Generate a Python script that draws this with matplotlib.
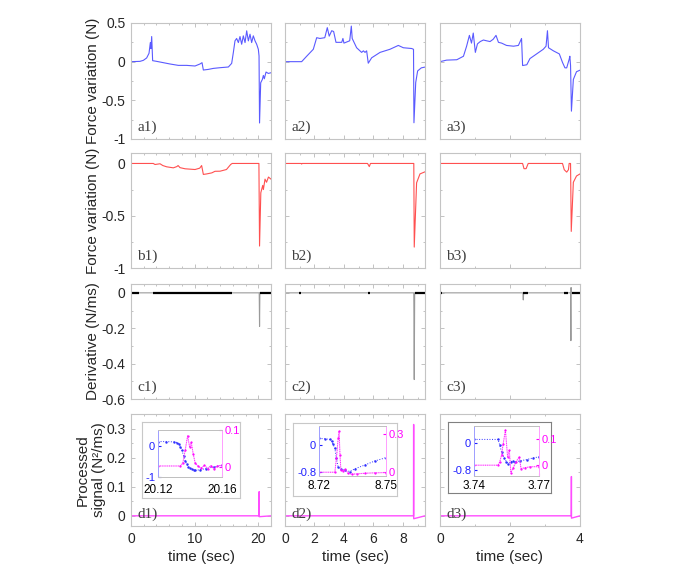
import matplotlib
matplotlib.use("Agg")
import matplotlib.pyplot as plt
from matplotlib.ticker import AutoMinorLocator, FuncFormatter

plt.rcParams['font.family'] = ['Liberation Sans', 'DejaVu Sans']
plt.rcParams['axes.unicode_minus'] = False

# ---- data ----
# row a: force variation (N)
a1_t = [0, 1.41, 1.94, 2.46, 2.83, 3.04, 3.14, 3.25, 3.40, 4.03, 5.08, 6.13, 7.44, 8.75, 10.06,
        10.84, 11.16, 11.37, 12.15, 12.94, 13.99, 15.3, 15.82, 16.08, 16.34, 16.6, 16.87, 17.13,
        17.39, 17.65, 17.92, 18.18, 18.44, 18.7, 18.96, 19.22, 19.49, 19.75, 20.01, 20.12, 20.2,
        20.38, 20.64, 20.8, 20.95, 21.22, 21.58, 22.0]
a1_v = [0, 0.004, 0.017, 0.048, 0.108, 0.247, 0.169, 0.325, 0.013, 0.004, -0.013, -0.03, -0.048,
        -0.048, -0.056, -0.03, -0.013, -0.108, -0.1, -0.087, -0.078, -0.069, -0.022, 0.117, 0.269,
        0.3, 0.247, 0.325, 0.225, 0.334, 0.247, 0.399, 0.269, 0.355, 0.247, 0.334, 0.269, 0.225,
        0.16, 0.074, -0.793, -0.273, -0.23, -0.178, -0.221, -0.134, -0.152, -0.143]
a2_t = [0, 1.13, 1.47, 1.92, 2.15, 2.37, 2.7, 2.87, 3.0, 3.17, 3.3, 3.46, 3.85, 3.93, 4.0, 4.39,
        4.5, 4.56, 4.86, 5.2, 5.32, 5.43, 5.54, 5.65, 5.88, 6.45, 7.12, 7.69, 8.03, 8.6, 8.72,
        8.75, 8.87, 9.0, 9.25, 9.5]
a2_v = [0, 0, 0.07, 0.16, 0.31, 0.30, 0.31, 0.44, 0.33, 0.40, 0.39, 0.25, 0.25, 0.30, 0.24, 0.27,
        0.46, 0.30, 0.18, 0.12, 0.14, 0.12, 0.14, -0.02, 0.05, 0.12, 0.16, 0.21, 0.18, 0.17, 0.16,
        -0.79, -0.27, -0.12, -0.08, -0.07]
a3_t = [0, 0.19, 0.48, 0.67, 0.76, 0.84, 0.9, 0.95, 1.01, 1.07, 1.15, 1.24, 1.33, 1.43, 1.52, 1.6,
        1.67, 1.76, 1.9, 2.1, 2.24, 2.33, 2.36, 2.48, 2.57, 2.76, 2.95, 3.03, 3.07, 3.1, 3.24,
        3.41, 3.5, 3.57, 3.62, 3.69, 3.71, 3.73, 3.755, 3.81, 3.9, 4.0]
a3_v = [0, 0.02, 0.025, 0.07, 0.2, 0.34, 0.24, 0.37, 0.12, 0.23, 0.26, 0.28, 0.27, 0.26, 0.29,
        0.34, 0.25, 0.24, 0.21, 0.2, 0.21, 0.30, -0.05, -0.04, 0.04, 0.1, 0.16, 0.2, 0.40, 0.18,
        0.14, 0.1, -0.01, -0.08, -0.08, 0.03, 0.07, -0.05, -0.64, -0.23, -0.13, -0.11]

# row b: force variation, negative part (N)
b1_t = [0, 3.5, 3.77, 4.56, 5.0, 5.6, 6.65, 7.2, 7.4, 7.7, 8.5, 10.06, 10.8, 11.1, 11.37, 11.9,
        12.7, 13.2, 14.0, 15.0, 15.66, 15.9, 20.1, 20.2, 20.4, 20.7, 20.8, 21.06, 21.3, 21.6, 22]
b1_v = [0, 0, -0.01, -0.003, -0.02, -0.032, -0.042, -0.03, -0.02, -0.04, -0.051, -0.058, -0.045,
        -0.02, -0.105, -0.1, -0.09, -0.075, -0.074, -0.058, -0.01, 0, 0, -0.79, -0.28, -0.21,
        -0.25, -0.15, -0.18, -0.13, -0.15]
b2_t = [0, 1.1, 1.13, 1.16, 5.6, 5.72, 5.8, 8.74, 8.77, 8.93, 9.16, 9.5]
b2_v = [0, 0, -0.006, 0, 0, -0.03, 0, 0, -0.80, -0.185, -0.1, -0.08]
b3_t = [0, 2.36, 2.4, 2.46, 2.52, 3.5, 3.55, 3.62, 3.67, 3.69, 3.73, 3.75, 3.81, 3.9, 4.0]
b3_v = [0, 0, -0.05, -0.05, 0, 0, -0.06, -0.083, -0.06, 0, 0, -0.65, -0.18, -0.12, -0.1]

# row c: derivative (N/ms)
c1_t = [0, 20.15, 20.2, 20.25, 22]
c1_v = [0, 0, -0.19, 0, 0]
c2_t = [0, 8.74, 8.77, 8.8, 9.5]
c2_v = [0, 0, -0.49, 0, 0]
c3_t = [0, 2.37, 2.38, 2.39, 3.73, 3.74, 3.745, 3.75, 4.0]
c3_v = [0, 0, -0.04, 0, 0, -0.27, 0.03, 0, 0]
c1_busy = [(0.1, 1.3), (3.5, 15.8), (20.2, 22)]
c2_busy = [(0.95, 1.1), (5.62, 5.75), (8.8, 9.5)]
c3_busy = [(0.02, 0.07), (2.38, 2.52), (3.55, 3.66), (3.78, 4.0)]

# row d: processed signal (N^2/ms)
d1_t = [0, 20.1, 20.14, 20.16, 22]
d1_v = [0, 0, 0.083, -0.003, 0]
d2_t = [0, 8.72, 8.73, 8.735, 9.5]
d2_v = [0, 0, 0.314, -0.01, 0]
d3_t = [0, 3.75, 3.7545, 3.757, 4.0]
d3_v = [0, 0, 0.135, -0.008, 0]

# insets (left: derivative, right: processed signal)
i1_bt = [20.12, 20.125, 20.130, 20.132, 20.133, 20.134, 20.135, 20.136, 20.137, 20.138, 20.139,
         20.140, 20.141, 20.1425, 20.1433, 20.146, 20.150, 20.155, 20.16]
i1_bv = [0.13, 0.13, 0.12, 0.10, 0.05, -0.03, -0.15, -0.33, -0.48, -0.60, -0.67, -0.72, -0.75,
         -0.78, -0.79, -0.77, -0.73, -0.68, -0.63]
i1_mt = [20.12, 20.134, 20.1355, 20.137, 20.1385, 20.1398, 20.1408, 20.142, 20.1433, 20.145,
         20.147, 20.149, 20.151, 20.153, 20.155, 20.157, 20.16]
i1_mv = [0.002, 0.002, 0.01, 0.045, 0.084, 0.053, 0.066, 0.035, 0.009, 0.002, -0.004, 0.004,
         -0.005, 0.003, -0.006, 0.002, 0.004]
i2_bt = [8.72, 8.7226, 8.7248, 8.7256, 8.7263, 8.7271, 8.7278, 8.7286, 8.7300, 8.7316, 8.7338,
         8.736, 8.7406, 8.745, 8.75]
i2_bv = [0.195, 0.185, 0.166, 0.117, 0.02, -0.098, -0.39, -0.66, -0.71, -0.73, -0.78, -0.70,
         -0.585, -0.468, -0.37]
i2_mt = [8.72, 8.7271, 8.7278, 8.7286, 8.729, 8.7294, 8.7298, 8.7308, 8.7318, 8.733, 8.7346,
         8.7368, 8.7406, 8.745, 8.75]
i2_mv = [0, 0, 0.11, 0.27, 0.326, 0.137, 0.018, 0.01, 0.024, -0.008, -0.016, -0.013, -0.008,
         -0.005, -0.003]
i3_bt = [3.74, 3.7511, 3.7519, 3.7527, 3.754, 3.755, 3.7558, 3.7569, 3.7578, 3.7589, 3.7612,
         3.7643, 3.7674, 3.77]
i3_bv = [0.12, 0.12, -0.05, -0.25, -0.43, -0.55, -0.60, -0.55, -0.52, -0.56, -0.52, -0.48,
         -0.43, -0.40]
i3_mt = [3.74, 3.7511, 3.7519, 3.7527, 3.7535, 3.7545, 3.7555, 3.7563, 3.757, 3.7581, 3.7594,
         3.7609, 3.7617, 3.7636, 3.7659, 3.77]
i3_mv = [0, 0, 0.013, 0.039, 0.084, 0.136, 0.032, 0.058, -0.029, -0.01, 0.013, 0.032, -0.013,
         -0.01, -0.006, -0.006]

W, H = 679, 576


def box(x0, y0, x1, y1):
    return [x0 / W, 1 - y1 / H, (x1 - x0) / W, (y1 - y0) / H]


def fmt(v, pos):
    return f'{v:g}'


fig = plt.figure(figsize=(6.79, 5.76), dpi=100)

col_x = [131, 285, 440]
row_y = [(23, 139), (153, 268), (284, 399), (414, 526)]
xlims = [(0, 22), (0, 9.5), (0, 4)]
xticks = [[0, 10, 20], [0, 2, 4, 6, 8], [0, 2, 4]]
ylims = [(-1, 0.5), (-1, 0.1), (-0.6, 0.05), (-0.035, 0.35)]
yticks = [[-1, -0.5, 0, 0.5], [-1, -0.5, 0], [-0.6, -0.4, -0.2, 0], [0, 0.1, 0.2, 0.3]]
ylabels = ['Force variation (N)', 'Force variation (N)', 'Derivative (N/ms)',
           'Processed\nsignal (N²/ms)']
letters = ['a', 'b', 'c', 'd']

series = [
    [(a1_t, a1_v), (a2_t, a2_v), (a3_t, a3_v)],
    [(b1_t, b1_v), (b2_t, b2_v), (b3_t, b3_v)],
    [(c1_t, c1_v), (c2_t, c2_v), (c3_t, c3_v)],
    [(d1_t, d1_v), (d2_t, d2_v), (d3_t, d3_v)],
]
busy = [c1_busy, c2_busy, c3_busy]
colors = ['#5a5aff', '#ff5050', '#9a9a9a', '#ff4cff']

axes = []
for r in range(4):
    for c in range(3):
        y0, y1 = row_y[r]
        ax = fig.add_axes(box(col_x[c], y0, col_x[c] + 140, y1))
        t, v = series[r][c]
        ax.plot(t, v, color=colors[r], lw=0.8 if r != 3 else 1.0)
        if r == 2:
            for s, e in busy[c]:
                ax.plot([s, e], [0, 0], color='black', lw=1.6, solid_capstyle='butt')
        ax.set_xlim(xlims[c])
        ax.set_ylim(ylims[r])
        ax.set_xticks(xticks[c])
        ax.set_yticks(yticks[r])
        ax.xaxis.set_minor_locator(AutoMinorLocator(5 if c == 0 else 2))
        ax.yaxis.set_minor_locator(AutoMinorLocator(2))
        ax.yaxis.set_major_formatter(FuncFormatter(fmt))
        ax.tick_params(which='both', direction='in', top=True, right=True,
                       color='#b8b8b8', width=0.6, labelcolor='#262626', labelsize=10)
        ax.tick_params(which='major', length=3, pad=4)
        ax.tick_params(which='minor', length=1.5)
        for sp in ax.spines.values():
            sp.set_color('#c4c4c4')
            sp.set_linewidth(0.8)
        if c != 0:
            ax.set_yticklabels([])
        else:
            ax.set_ylabel(ylabels[r], fontsize=11, color='#262626')
            ax.yaxis.set_label_coords(-0.225 if r < 3 else -0.18, 0.5)
        if r != 3:
            ax.set_xticklabels([])
        else:
            ax.set_xlabel('time (sec)', fontsize=11, color='#262626', labelpad=3)
        ax.text(0.045, 0.045, f'{letters[r]}{c + 1})', transform=ax.transAxes,
                fontsize=11, family='Liberation Serif', color='#404040',
                ha='left', va='bottom')
        axes.append(ax)

# insets
insets = [
    dict(outer=(142, 422, 240, 498), inner=(158, 430, 222, 477), xlim=(20.12, 20.16),
         lyl=(-1, 0.5), lyt=[-1, 0], ryl=(-0.028, 0.1), ryt=[0, 0.1],
         blue=(i1_bt, i1_bv), mag=(i1_mt, i1_mv), edge='#c8c8c8'),
    dict(outer=(293, 423, 397, 496), inner=(319, 426, 386, 476), xlim=(8.72, 8.75),
         lyl=(-0.91, 0.56), lyt=[-0.8, 0], ryl=(-0.03, 0.366), ryt=[0, 0.3],
         blue=(i2_bt, i2_bv), mag=(i2_mt, i2_mv), edge='#c8c8c8'),
    dict(outer=(448, 422, 551, 493), inner=(474, 426, 539, 476), xlim=(3.74, 3.77),
         lyl=(-0.97, 0.52), lyt=[-0.8, 0], ryl=(-0.042, 0.152), ryt=[0, 0.1],
         blue=(i3_bt, i3_bv), mag=(i3_mt, i3_mv), edge='#808080'),
]
for k, ins in enumerate(insets):
    bg = fig.add_axes(box(*ins['outer']), zorder=2)
    bg.set_xticks([])
    bg.set_yticks([])
    for sp in bg.spines.values():
        sp.set_color(ins['edge'])
        sp.set_linewidth(0.8)
    axl = fig.add_axes(box(*ins['inner']), zorder=3)
    axl.patch.set_alpha(0)
    axl.plot(*ins['blue'], color='#3030ff', lw=0.7, ls=':', marker='.', ms=1.5)
    axl.set_xlim(ins['xlim'])
    axl.set_ylim(ins['lyl'])
    axl.set_xticks(list(ins['xlim']))
    axl.set_xticklabels([f'{x:.2f}' for x in ins['xlim']])
    axl.set_yticks(ins['lyt'])
    axl.yaxis.set_major_formatter(FuncFormatter(fmt))
    axl.tick_params(axis='y', colors='#2020ff', labelsize=8, direction='in', length=2, pad=2)
    axl.tick_params(axis='x', colors='#bbbbbb', labelcolor='black', labelsize=8.5,
                    direction='in', length=2, pad=5 if k == 0 else 3)
    axr = axl.twinx()
    axr.set_zorder(4)
    axr.plot(*ins['mag'], color='#ff80ff', lw=0.8, alpha=0.6)
    axr.plot(*ins['mag'], color='#ff00ff', lw=0.6, ls=':', marker='.', ms=1.2)
    axr.set_ylim(ins['ryl'])
    axr.set_yticks(ins['ryt'])
    axr.yaxis.set_major_formatter(FuncFormatter(fmt))
    axr.tick_params(axis='y', colors='#ff00ff', labelsize=8, direction='in', length=2, pad=2)
    for a in (axl, axr):
        for name, sp in a.spines.items():
            sp.set_linewidth(0.7)
            sp.set_color('#c0c0c0')
        a.spines['left'].set_color('#a0a0ff')
        a.spines['right'].set_color('#ffa0ff')

fig.savefig('out.png', dpi=100)
